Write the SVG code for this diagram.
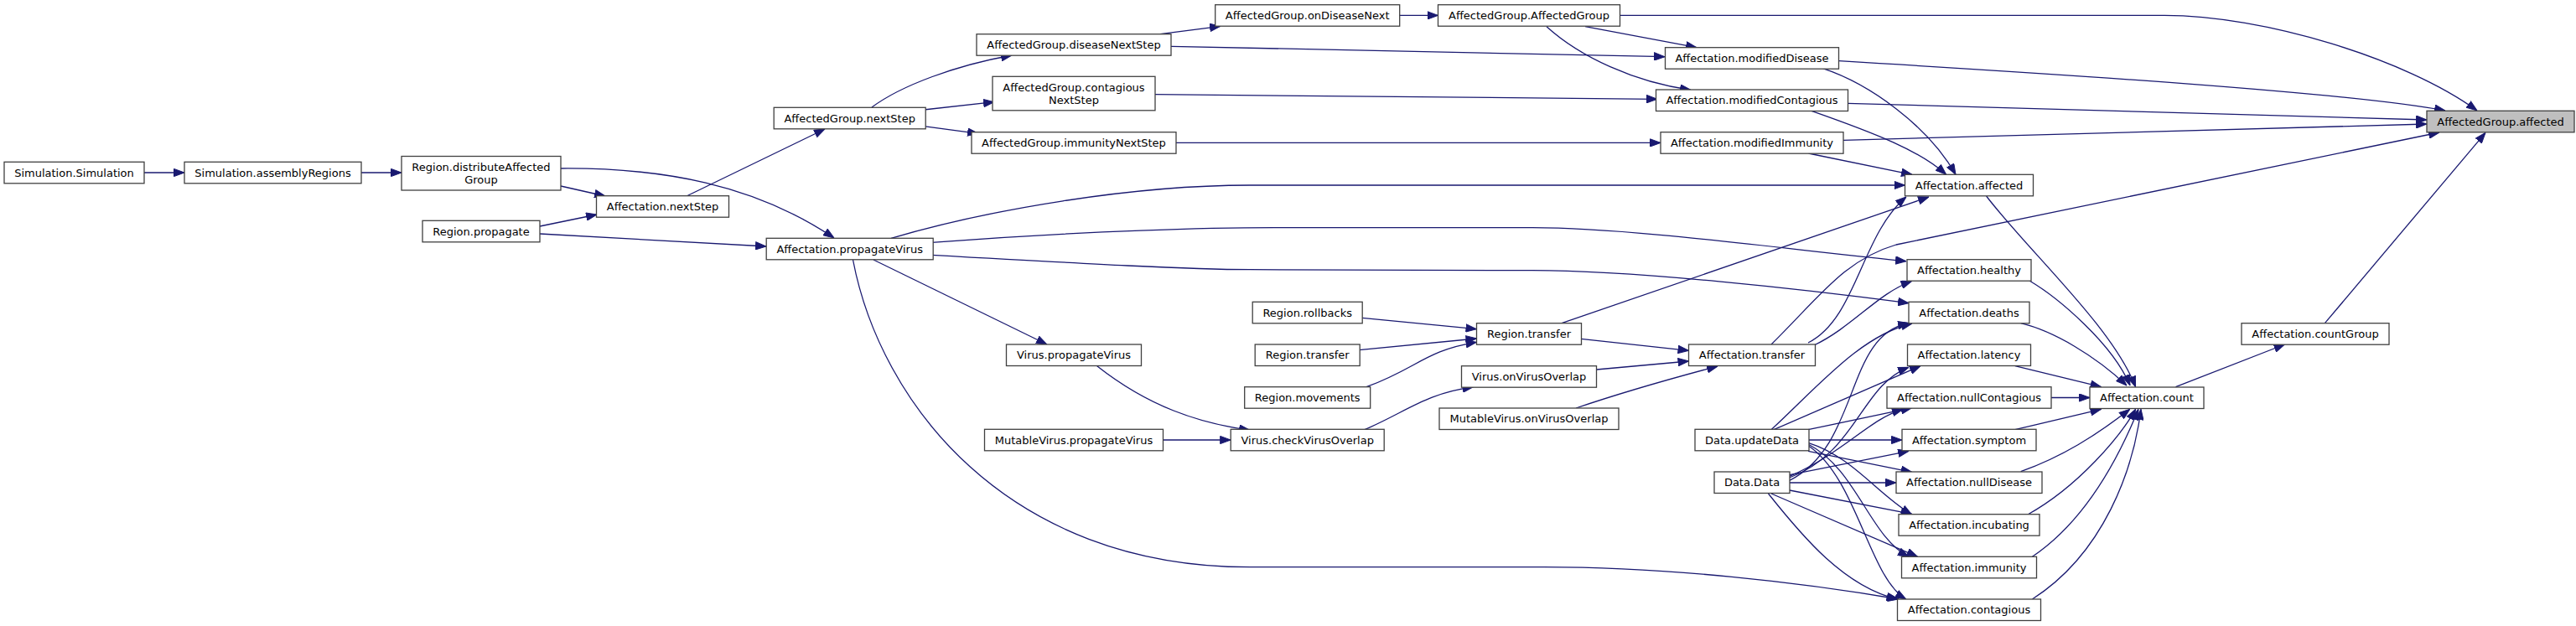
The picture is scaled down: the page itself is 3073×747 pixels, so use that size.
<svg xmlns="http://www.w3.org/2000/svg" width="3073" height="747" viewBox="0 0 3073 747">
<style>
.n rect{fill:#ffffff;stroke:#404040;stroke-width:1.3}
.n.hl rect{fill:#bfbfbf}
.n text{font-family:"DejaVu Sans",sans-serif;font-size:13px;fill:#000;text-anchor:middle}
.e path{fill:none;stroke:#191970;stroke-width:1.3;marker-end:url(#ah)}
</style>
<defs>
<marker id="ah" viewBox="0 0 13 10" markerWidth="13" markerHeight="10" refX="13" refY="5" orient="auto" markerUnits="userSpaceOnUse">
<path d="M0.5,0.4 L13,5 L0.5,9.6 z" fill="#191970" stroke="#191970" stroke-width="1"/>
</marker>
</defs>
<rect width="3073" height="747" fill="#ffffff"/>
<g id="edges" class="e">
<path d="M172,206 L220,206"/>
<path d="M431,206 L479,206"/>
<path d="M669,222 L722,234"/>
<path d="M669,201 C790,200 900,220 995,284"/>
<path d="M644,270 L712,256"/>
<path d="M644,279 L914,294"/>
<path d="M819,234 L984,154"/>
<path d="M1040,128 C1075,102 1140,78 1207,66"/>
<path d="M1102,131 L1186,121.7"/>
<path d="M1102,150.7 L1167,159.3"/>
<path d="M1384,40.7 L1456,31.3"/>
<path d="M1397,55.3 L1986,67.7"/>
<path d="M1670,18.4 L1715.5,18.4"/>
<path d="M1933,18.4 L2582,18.4 C2700,18.4 2870,70 2955,132"/>
<path d="M1891,31.7 L2024,56.7"/>
<path d="M1845,31.7 C1885,68 1950,98 2017,107.3"/>
<path d="M1377,112.7 L1977,118.3"/>
<path d="M1403,170.4 L1981,170.4"/>
<path d="M2194,72.7 C2450,88 2800,110 2917,132"/>
<path d="M2204,123.3 L2895,143"/>
<path d="M2199,167.3 L2895,148"/>
<path d="M2174.5,81.7 C2230,100 2300,150 2333,208.3"/>
<path d="M2161,132.3 C2240,160 2290,180 2321.7,208.3"/>
<path d="M2157.4,183 L2281,208.3"/>
<path d="M1063,284.3 C1180,250 1350,221 1491,221 L2272.5,221"/>
<path d="M1111.5,289.3 C1300,275 1450,271.7 1520,271.7 L1828,271.7 C1950,271.7 2150,300 2274,311.7"/>
<path d="M1111.5,304.3 C1300,315 1420,321.7 1491,321.7 L1828,322.7 C1950,322.7 2150,345 2277,361.7"/>
<path d="M1042,310 L1249,411"/>
<path d="M1017.5,310 C1050,480 1200,676.7 1491,676.7 L1842,676.7 C1990,676.7 2150,695 2265,715"/>
<path d="M1308.7,436.7 C1370,485 1430,505 1491,513.3"/>
<path d="M1387.5,525 L1468.2,525"/>
<path d="M1628,512.7 C1680,490 1700,470 1757.6,461.7"/>
<path d="M1625,379.3 L1761.5,392.7"/>
<path d="M1621.3,417.7 L1761.5,404"/>
<path d="M1630,461.7 C1690,440 1700,418 1761.5,408.3"/>
<path d="M1886,404.3 L2014.5,418.3"/>
<path d="M1904.5,441 L2014.5,431"/>
<path d="M1880,487 C1930,470 2000,450 2049,437"/>
<path d="M1863,385.7 L2301,235"/>
<path d="M2157,409 C2215,380 2220,280 2274,235"/>
<path d="M2164,412 C2210,390 2240,350 2280.6,335.5"/>
<path d="M2113,411 C2170,355 2200,310 2262,292 L2910,158"/>
<path d="M2369.6,234 C2420,300 2520,390 2547.6,461.7"/>
<path d="M2421,335 C2455,355 2520,410 2541,460"/>
<path d="M2410.7,385.7 C2450,395 2500,425 2537,460"/>
<path d="M2403.8,436.7 L2506.5,461.7"/>
<path d="M2447,474.5 L2493,474.5"/>
<path d="M2403.8,512.7 L2506.5,488.3"/>
<path d="M2410.7,562.7 C2460,545 2500,520 2540.7,488.3"/>
<path d="M2419,614 C2480,580 2530,520 2547.6,488.3"/>
<path d="M2424.4,664.3 C2490,620 2530,540 2551,488.3"/>
<path d="M2424.4,715 C2510,660 2545,560 2554,488.3"/>
<path d="M2595.5,461.7 L2725.5,411"/>
<path d="M2773.4,385.7 L2965,158.3"/>
<path d="M2113,512.7 C2170,460 2220,400 2281,386"/>
<path d="M2116,512.7 L2291,436.7"/>
<path d="M2157,512.7 L2280.6,486.7"/>
<path d="M2158,525 L2269,525"/>
<path d="M2157,538.3 L2280.6,563.3"/>
<path d="M2157,528.3 C2210,545 2240,590 2280.6,614"/>
<path d="M2157,530 C2215,560 2230,640 2277,664.3"/>
<path d="M2157,531.7 C2215,570 2230,690 2273.8,715"/>
<path d="M2134.8,573.3 C2220,530 2200,400 2277,385.7"/>
<path d="M2134.8,570 C2215,540 2220,460 2277,438.3"/>
<path d="M2134.8,568.3 C2200,540 2230,500 2270,488.3"/>
<path d="M2134.8,566.7 L2277,538.3"/>
<path d="M2135,576 L2262,576"/>
<path d="M2134.8,585 L2280.6,613.3"/>
<path d="M2113,589 L2287.5,664.3"/>
<path d="M2109.5,589 C2150,640 2200,700 2263.5,715"/>
</g>
<g id="n_sim" class="n"><rect x="5" y="193.3" width="167" height="25.5"/><text x="88.5" y="210.5">Simulation.Simulation</text></g>
<g id="n_asm" class="n"><rect x="220" y="193.3" width="211" height="25.5"/><text x="325.5" y="210.5">Simulation.assemblyRegions</text></g>
<g id="n_dist" class="n"><rect x="479" y="186.5" width="190" height="40.5"/><text x="574" y="203.7">Region.distributeAffected</text><text x="574" y="218.7">Group</text></g>
<g id="n_rprop" class="n"><rect x="504" y="263.3" width="140" height="25.5"/><text x="574" y="280.5">Region.propagate</text></g>
<g id="n_anext" class="n"><rect x="711.5" y="233.7" width="158" height="25.5"/><text x="790.5" y="250.9">Affectation.nextStep</text></g>
<g id="n_agnext" class="n"><rect x="923.2" y="128.3" width="181" height="25.5"/><text x="1013.7" y="145.5">AffectedGroup.nextStep</text></g>
<g id="n_aprop" class="n"><rect x="914.2" y="284.3" width="199" height="25.5"/><text x="1013.7" y="301.5">Affectation.propagateVirus</text></g>
<g id="n_dns" class="n"><rect x="1165" y="40.7" width="232" height="25.5"/><text x="1281" y="57.9">AffectedGroup.diseaseNextStep</text></g>
<g id="n_cns" class="n"><rect x="1184" y="91.3" width="194" height="40.5"/><text x="1281" y="108.5">AffectedGroup.contagious</text><text x="1281" y="123.5">NextStep</text></g>
<g id="n_ins" class="n"><rect x="1159" y="157.7" width="244" height="25.5"/><text x="1281" y="174.9">AffectedGroup.immunityNextStep</text></g>
<g id="n_vprop" class="n"><rect x="1200.5" y="411" width="161" height="25.5"/><text x="1281" y="428.2">Virus.propagateVirus</text></g>
<g id="n_mvprop" class="n"><rect x="1174.5" y="512.3" width="213" height="25.5"/><text x="1281" y="529.5">MutableVirus.propagateVirus</text></g>
<g id="n_odn" class="n"><rect x="1449.7" y="5.7" width="220" height="25.5"/><text x="1559.7" y="22.9">AffectedGroup.onDiseaseNext</text></g>
<g id="n_rroll" class="n"><rect x="1494.2" y="360.3" width="131" height="25.5"/><text x="1559.7" y="377.5">Region.rollbacks</text></g>
<g id="n_rtr2" class="n"><rect x="1497.2" y="411" width="125" height="25.5"/><text x="1559.7" y="428.2">Region.transfer</text></g>
<g id="n_rmov" class="n"><rect x="1484.7" y="461.7" width="150" height="25.5"/><text x="1559.7" y="478.9">Region.movements</text></g>
<g id="n_vcvo" class="n"><rect x="1468.2" y="512.3" width="183" height="25.5"/><text x="1559.7" y="529.5">Virus.checkVirusOverlap</text></g>
<g id="n_agag" class="n"><rect x="1715.5" y="5.7" width="217" height="25.5"/><text x="1824" y="22.9">AffectedGroup.AffectedGroup</text></g>
<g id="n_rtr" class="n"><rect x="1761.5" y="385.7" width="125" height="25.5"/><text x="1824" y="402.9">Region.transfer</text></g>
<g id="n_vovo" class="n"><rect x="1743.5" y="436.7" width="161" height="25.5"/><text x="1824" y="453.9">Virus.onVirusOverlap</text></g>
<g id="n_mvovo" class="n"><rect x="1717" y="487" width="214" height="25.5"/><text x="1824" y="504.2">MutableVirus.onVirusOverlap</text></g>
<g id="n_mdis" class="n"><rect x="1986.5" y="56.7" width="207" height="25.5"/><text x="2090" y="73.9">Affectation.modifiedDisease</text></g>
<g id="n_mcon" class="n"><rect x="1975.5" y="107" width="229" height="25.5"/><text x="2090" y="124.2">Affectation.modifiedContagious</text></g>
<g id="n_mimm" class="n"><rect x="1981" y="157.7" width="218" height="25.5"/><text x="2090" y="174.9">Affectation.modifiedImmunity</text></g>
<g id="n_atr" class="n"><rect x="2014.5" y="411" width="151" height="25.5"/><text x="2090" y="428.2">Affectation.transfer</text></g>
<g id="n_dud" class="n"><rect x="2022" y="512.3" width="136" height="25.5"/><text x="2090" y="529.5">Data.updateData</text></g>
<g id="n_dd" class="n"><rect x="2045" y="563" width="90" height="25.5"/><text x="2090" y="580.2">Data.Data</text></g>
<g id="n_aaff" class="n"><rect x="2272.5" y="208.3" width="153" height="25.5"/><text x="2349" y="225.5">Affectation.affected</text></g>
<g id="n_heal" class="n"><rect x="2275" y="309.7" width="148" height="25.5"/><text x="2349" y="326.9">Affectation.healthy</text></g>
<g id="n_dea" class="n"><rect x="2277" y="360.3" width="144" height="25.5"/><text x="2349" y="377.5">Affectation.deaths</text></g>
<g id="n_lat" class="n"><rect x="2275.5" y="411" width="147" height="25.5"/><text x="2349" y="428.2">Affectation.latency</text></g>
<g id="n_ncon" class="n"><rect x="2251" y="461.7" width="196" height="25.5"/><text x="2349" y="478.9">Affectation.nullContagious</text></g>
<g id="n_sym" class="n"><rect x="2269" y="512.3" width="160" height="25.5"/><text x="2349" y="529.5">Affectation.symptom</text></g>
<g id="n_ndis" class="n"><rect x="2262" y="563" width="174" height="25.5"/><text x="2349" y="580.2">Affectation.nullDisease</text></g>
<g id="n_inc" class="n"><rect x="2265" y="613.7" width="168" height="25.5"/><text x="2349" y="630.9">Affectation.incubating</text></g>
<g id="n_imm" class="n"><rect x="2268.5" y="664.3" width="161" height="25.5"/><text x="2349" y="681.5">Affectation.immunity</text></g>
<g id="n_con" class="n"><rect x="2263.5" y="715" width="171" height="25.5"/><text x="2349" y="732.2">Affectation.contagious</text></g>
<g id="n_cnt" class="n"><rect x="2493" y="462" width="136" height="25.5"/><text x="2561" y="479.2">Affectation.count</text></g>
<g id="n_cg" class="n"><rect x="2674" y="385.7" width="176" height="25.5"/><text x="2762" y="402.9">Affectation.countGroup</text></g>
<g id="n_aga" class="n hl"><rect x="2895" y="132.3" width="176" height="25.5"/><text x="2983" y="149.5">AffectedGroup.affected</text></g>
</svg>
